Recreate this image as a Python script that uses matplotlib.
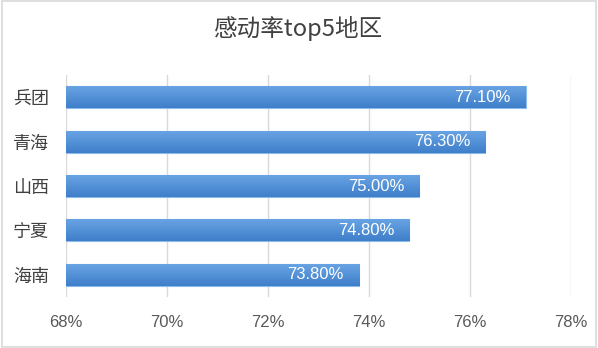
import matplotlib.pyplot as plt
import numpy as np
from matplotlib.ticker import FuncFormatter
from matplotlib.patches import Rectangle

plt.rcParams['font.family'] = ['Noto Sans CJK SC', 'DejaVu Sans']

regions = ['兵团', '青海', '山西', '宁夏', '海南']
rates = [77.1, 76.3, 75.0, 74.8, 73.8]
xticks = [68, 70, 72, 74, 76, 78]

fig = plt.figure(figsize=(5.98, 3.48), dpi=100)
ax = fig.add_axes([0.110, 0.147, 0.845, 0.637])

y = np.arange(len(regions))
base = 68
bars = ax.barh(y, [r - base for r in rates], left=base, height=0.5,
               color='#4a88d2', edgecolor='#8dbbec', linewidth=0.8, zorder=2)

# light gradient on top of each bar
grad = np.linspace(0, 1, 50).reshape(-1, 1)
cmap = plt.matplotlib.colors.LinearSegmentedColormap.from_list('g', ['#6aa5e4', '#3f7fca'])
for b in bars:
    x0, y0 = b.get_x(), b.get_y()
    w, h = b.get_width(), b.get_height()
    im = ax.imshow(grad, extent=[x0, x0 + w, y0 + h, y0], aspect='auto',
                   cmap=cmap, zorder=2.5)
    im.set_clip_path(b)

for yi, r in zip(y, rates):
    ax.text(r - 0.3, yi, f'{r:.2f}%', ha='right', va='center',
            color='white', fontsize=12, family=['Liberation Sans'], zorder=3)

ax.set_xlim(68, 78)
ax.set_ylim(len(regions) - 0.5, -0.5)
ax.set_yticks(y)
ax.set_yticklabels(regions, fontsize=13, color='#404040')
ax.set_xticks(xticks)
ax.xaxis.set_major_formatter(FuncFormatter(lambda v, p: f'{v:.0f}%'))
ax.tick_params(axis='x', labelsize=12, labelcolor='#595959', length=0, pad=13)
ax.tick_params(axis='y', length=0, pad=12)
for lbl in ax.get_xticklabels():
    lbl.set_family(['Liberation Sans'])
ax.grid(axis='x', color='#d9d9d9', linewidth=1, zorder=0)
ax.set_axisbelow(True)
for s in ax.spines.values():
    s.set_visible(False)

fig.suptitle('感动率top5地区', x=0.5, y=0.955, fontsize=17, color='#404040')
fig.patches.append(Rectangle((0.003, 0.003), 0.994, 0.994, transform=fig.transFigure,
                             fill=False, edgecolor='#d9d9d9', linewidth=1.2))

fig.savefig('out.png', dpi=100)
